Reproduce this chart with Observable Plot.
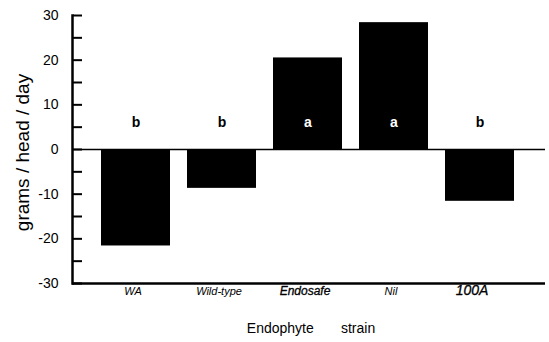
<!DOCTYPE html>
<html>
<head>
<meta charset="utf-8">
<script src="https://cdn.jsdelivr.net/npm/d3@7"></script>
<script src="https://cdn.jsdelivr.net/npm/@observablehq/plot@0.6"></script>
<style>
  html, body { margin: 0; padding: 0; background: #fff; }
</style>
</head>
<body>
<div id="chart"></div>
<script>
const strains = ["WA", "Wild-type", "Endosafe", "Nil", "100A"];
const gain = [-21.6, -8.7, 20.5, 28.4, -11.6];
const groups = ["b", "b", "a", "a", "b"];
const yTickLabels = [-30, -20, -10, 0, 10, 20, 30];
const yMinorTicks = [-30, -25, -20, -15, -10, -5, 0, 5, 10, 15, 20, 25, 30];
const groupLabelY = 6;
const yLabel = "grams / head / day";
const xLabel = "Endophyte\u00a0\u00a0\u00a0\u00a0\u00a0\u00a0\u00a0strain";

const data = strains.map((s, i) => ({strain: s, gain: gain[i], group: groups[i]}));

const chart = Plot.plot({
  width: 549,
  height: 342,
  marginLeft: 72,
  marginRight: 4,
  marginTop: 15,
  marginBottom: 59,
  style: {fontFamily: "'Liberation Sans', Arial, sans-serif", background: "#fff", color: "#000"},
  x: {domain: strains, range: [90, 524.5], paddingInner: 0.195, paddingOuter: 0.0975, axis: null},
  y: {domain: [-30, 30], axis: null},
  marks: [
    Plot.barY(data, {x: "strain", y: "gain", fill: "black"}),
    Plot.ruleY([0], {strokeWidth: 1.5}),
    Plot.ruleY([-30], {strokeWidth: 2.5}),
    Plot.frame({anchor: "left", strokeWidth: 2.5}),
    Plot.axisY(yMinorTicks, {anchor: "right", frameAnchor: "left", tickSize: 9, strokeWidth: 2, fill: "none", label: null}),
    Plot.axisY(yTickLabels, {anchor: "left", tickSize: 0, tickPadding: 14, fontSize: 14, tickFormat: d => String(d), label: null}),
    Plot.text([yLabel], {frameAnchor: "left", textAnchor: "middle", rotate: -90, dx: -50, dy: 3, fontSize: 19, fill: "black"}),
    Plot.text(data, {x: "strain", y: () => groupLabelY, text: "group", fill: d => d.group === "a" ? "white" : "black", fontSize: 14, fontWeight: "bold"}),
    Plot.text(data, {filter: d => d.strain !== "Endosafe" && d.strain !== "100A", x: "strain", text: "strain", frameAnchor: "bottom", dy: 11, dx: -3, fontSize: 11, fontStyle: "italic", fill: "black"}),
    Plot.text(data, {filter: d => d.strain === "Endosafe", x: "strain", text: "strain", frameAnchor: "bottom", dy: 11, dx: -3, fontSize: 12, fontStyle: "italic", fill: "black", stroke: "black", strokeWidth: 0.3}),
    Plot.text(data, {filter: d => d.strain === "100A", x: "strain", text: "strain", frameAnchor: "bottom", dy: 11, dx: -8, fontSize: 14, fontStyle: "italic", fill: "black", stroke: "black", strokeWidth: 0.3}),
    Plot.text([xLabel], {frameAnchor: "bottom", dy: 49, dx: 2, fontSize: 14, fill: "black"})
  ]
});
document.getElementById("chart").appendChild(chart);
</script>
</body>
</html>
